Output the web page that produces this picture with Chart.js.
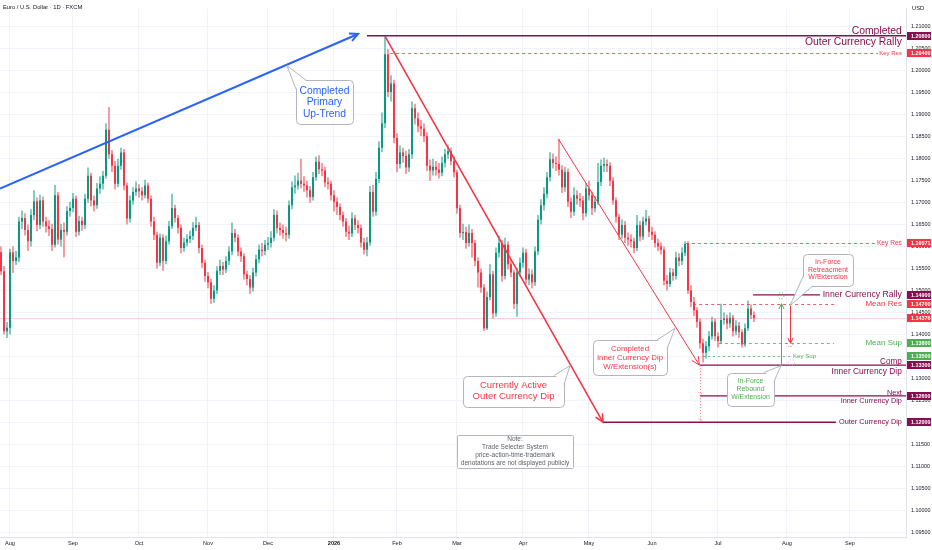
<!DOCTYPE html>
<html>
<head>
<meta charset="utf-8">
<title>EURUSD 1D</title>
<script src="https://cdn.jsdelivr.net/npm/chart.js@4.4.1/dist/chart.umd.min.js"></script>
<style>
  html, body { margin: 0; padding: 0; background: #ffffff; }
  canvas { display: block; }
</style>
</head>
<body>
<canvas id="chart" width="932" height="550"></canvas>
<script>
// Daily candles, Jul 29 2025 .. Jul 17 2026 (index 0 = Jul 29)
const opens = [
  1.1587, 1.1544, 1.1407, 1.1415, 1.1587, 1.1567, 1.1575, 1.1657, 1.1665, 1.1638,
  1.1612, 1.1672, 1.1703, 1.1649, 1.1705, 1.1657, 1.1646, 1.1640, 1.1604, 1.1717,
  1.1616, 1.1638, 1.1634, 1.1681, 1.1688, 1.1709, 1.1634, 1.1658, 1.1649, 1.1709,
  1.1761, 1.1705, 1.1694, 1.1732, 1.1743, 1.1761, 1.1866, 1.1810, 1.1784, 1.1743,
  1.1784, 1.1814, 1.1739, 1.1664, 1.1705, 1.1724, 1.1732, 1.1726, 1.1717, 1.1739,
  1.1709, 1.1657, 1.1627, 1.1563, 1.1620, 1.1567, 1.1612, 1.1646, 1.1687, 1.1665,
  1.1643, 1.1597, 1.1609, 1.1617, 1.1624, 1.1643, 1.1649, 1.1597, 1.1563, 1.1533,
  1.1519, 1.1481, 1.1500, 1.1545, 1.1556, 1.1548, 1.1567, 1.1589, 1.1631, 1.1620,
  1.1589, 1.1578, 1.1537, 1.1526, 1.1507, 1.1541, 1.1571, 1.1593, 1.1590, 1.1604,
  1.1608, 1.1620, 1.1672, 1.1642, 1.1638, 1.1631, 1.1627, 1.1694, 1.1735, 1.1739,
  1.1750, 1.1743, 1.1739, 1.1728, 1.1713, 1.1758, 1.1793, 1.1776, 1.1773, 1.1746,
  1.1743, 1.1717, 1.1702, 1.1690, 1.1672, 1.1657, 1.1634, 1.1630, 1.1664, 1.1649,
  1.1642, 1.1609, 1.1593, 1.1609, 1.1724, 1.1679, 1.1754, 1.1825, 1.1881, 1.2038,
  1.1952, 1.1971, 1.1847, 1.1788, 1.1814, 1.1806, 1.1780, 1.1810, 1.1915, 1.1892,
  1.1874, 1.1868, 1.1851, 1.1784, 1.1773, 1.1782, 1.1775, 1.1768, 1.1791, 1.1810,
  1.1817, 1.1795, 1.1769, 1.1687, 1.1631, 1.1633, 1.1608, 1.1631, 1.1608, 1.1567,
  1.1541, 1.1507, 1.1414, 1.1485, 1.1537, 1.1448, 1.1586, 1.1608, 1.1533, 1.1604,
  1.1560, 1.1541, 1.1470, 1.1541, 1.1563, 1.1586, 1.1525, 1.1537, 1.1519, 1.1589,
  1.1661, 1.1694, 1.1720, 1.1758, 1.1799, 1.1790, 1.1788, 1.1775, 1.1735, 1.1770,
  1.1702, 1.1679, 1.1717, 1.1709, 1.1705, 1.1676, 1.1732, 1.1717, 1.1687, 1.1702,
  1.1747, 1.1784, 1.1788, 1.1784, 1.1750, 1.1705, 1.1668, 1.1627, 1.1649, 1.1620,
  1.1616, 1.1612, 1.1597, 1.1649, 1.1623, 1.1657, 1.1664, 1.1634, 1.1627, 1.1608,
  1.1600, 1.1593, 1.1522, 1.1515, 1.1541, 1.1533, 1.1575, 1.1567, 1.1586, 1.1606,
  1.1500, 1.1474, 1.1455, 1.1429, 1.1380, 1.1358, 1.1373, 1.1396, 1.1429, 1.1396,
  1.1385, 1.1433, 1.1436, 1.1425, 1.1438, 1.1407, 1.1420, 1.1405, 1.1377, 1.1414,
  1.1459, 1.1444
];
const highs = [
  1.1600, 1.1556, 1.1428, 1.1595, 1.1600, 1.1590, 1.1668, 1.1682, 1.1676, 1.1650,
  1.1685, 1.1728, 1.1712, 1.1718, 1.1714, 1.1668, 1.1660, 1.1652, 1.1740, 1.1724,
  1.1652, 1.1655, 1.1692, 1.1702, 1.1722, 1.1716, 1.1670, 1.1668, 1.1720, 1.1780,
  1.1768, 1.1716, 1.1745, 1.1760, 1.1772, 1.1881, 1.1918, 1.1820, 1.1795, 1.1800,
  1.1825, 1.1822, 1.1746, 1.1716, 1.1735, 1.1748, 1.1742, 1.1735, 1.1752, 1.1746,
  1.1716, 1.1668, 1.1634, 1.1630, 1.1628, 1.1625, 1.1658, 1.1720, 1.1695, 1.1672,
  1.1650, 1.1620, 1.1628, 1.1636, 1.1656, 1.1668, 1.1656, 1.1604, 1.1570, 1.1542,
  1.1526, 1.1512, 1.1555, 1.1570, 1.1565, 1.1578, 1.1600, 1.1655, 1.1640, 1.1628,
  1.1598, 1.1585, 1.1545, 1.1535, 1.1552, 1.1582, 1.1605, 1.1608, 1.1615, 1.1622,
  1.1635, 1.1685, 1.1682, 1.1655, 1.1650, 1.1645, 1.1705, 1.1748, 1.1762, 1.1768,
  1.1800, 1.1760, 1.1750, 1.1738, 1.1770, 1.1805, 1.1808, 1.1790, 1.1782, 1.1758,
  1.1750, 1.1728, 1.1712, 1.1698, 1.1680, 1.1665, 1.1648, 1.1678, 1.1672, 1.1660,
  1.1650, 1.1620, 1.1622, 1.1738, 1.1740, 1.1770, 1.1840, 1.1905, 1.2079, 1.2050,
  1.1990, 1.1980, 1.1858, 1.1830, 1.1825, 1.1818, 1.1822, 1.1930, 1.1925, 1.1905,
  1.1888, 1.1880, 1.1860, 1.1798, 1.1800, 1.1795, 1.1790, 1.1805, 1.1822, 1.1832,
  1.1825, 1.1805, 1.1775, 1.1695, 1.1652, 1.1645, 1.1650, 1.1640, 1.1615, 1.1575,
  1.1550, 1.1515, 1.1498, 1.1560, 1.1545, 1.1598, 1.1625, 1.1615, 1.1620, 1.1612,
  1.1570, 1.1548, 1.1552, 1.1575, 1.1598, 1.1595, 1.1550, 1.1548, 1.1600, 1.1672,
  1.1708, 1.1735, 1.1770, 1.1815, 1.1812, 1.1805, 1.1845, 1.1785, 1.1782, 1.1778,
  1.1712, 1.1735, 1.1728, 1.1722, 1.1715, 1.1745, 1.1750, 1.1725, 1.1715, 1.1790,
  1.1798, 1.1802, 1.1798, 1.1792, 1.1758, 1.1712, 1.1675, 1.1662, 1.1658, 1.1632,
  1.1628, 1.1620, 1.1672, 1.1658, 1.1668, 1.1683, 1.1670, 1.1645, 1.1635, 1.1618,
  1.1610, 1.1600, 1.1535, 1.1552, 1.1550, 1.1588, 1.1585, 1.1598, 1.1612, 1.1612,
  1.1512, 1.1485, 1.1462, 1.1436, 1.1390, 1.1385, 1.1408, 1.1440, 1.1436, 1.1405,
  1.1470, 1.1450, 1.1445, 1.1450, 1.1445, 1.1432, 1.1428, 1.1412, 1.1425, 1.1477,
  1.1468, 1.1452
];
const lows = [
  1.1535, 1.1400, 1.1392, 1.1400, 1.1540, 1.1558, 1.1565, 1.1640, 1.1625, 1.1590,
  1.1600, 1.1660, 1.1635, 1.1640, 1.1645, 1.1632, 1.1624, 1.1590, 1.1598, 1.1605,
  1.1600, 1.1575, 1.1625, 1.1668, 1.1678, 1.1622, 1.1625, 1.1636, 1.1640, 1.1700,
  1.1692, 1.1680, 1.1686, 1.1720, 1.1730, 1.1755, 1.1800, 1.1770, 1.1730, 1.1735,
  1.1775, 1.1728, 1.1650, 1.1655, 1.1695, 1.1715, 1.1712, 1.1705, 1.1710, 1.1700,
  1.1645, 1.1615, 1.1550, 1.1555, 1.1545, 1.1560, 1.1605, 1.1640, 1.1655, 1.1630,
  1.1585, 1.1588, 1.1600, 1.1608, 1.1615, 1.1635, 1.1585, 1.1552, 1.1520, 1.1505,
  1.1470, 1.1472, 1.1492, 1.1535, 1.1535, 1.1540, 1.1558, 1.1580, 1.1610, 1.1578,
  1.1565, 1.1525, 1.1512, 1.1492, 1.1498, 1.1532, 1.1562, 1.1578, 1.1580, 1.1592,
  1.1598, 1.1612, 1.1630, 1.1625, 1.1618, 1.1612, 1.1618, 1.1685, 1.1720, 1.1730,
  1.1732, 1.1725, 1.1712, 1.1700, 1.1705, 1.1750, 1.1765, 1.1760, 1.1735, 1.1730,
  1.1705, 1.1680, 1.1672, 1.1660, 1.1645, 1.1622, 1.1615, 1.1622, 1.1638, 1.1630,
  1.1598, 1.1582, 1.1578, 1.1602, 1.1668, 1.1670, 1.1745, 1.1815, 1.1870, 1.1940,
  1.1930, 1.1835, 1.1770, 1.1778, 1.1790, 1.1765, 1.1770, 1.1800, 1.1878, 1.1860,
  1.1852, 1.1838, 1.1772, 1.1750, 1.1762, 1.1762, 1.1755, 1.1760, 1.1780, 1.1800,
  1.1785, 1.1758, 1.1675, 1.1620, 1.1615, 1.1595, 1.1600, 1.1575, 1.1555, 1.1507,
  1.1495, 1.1408, 1.1410, 1.1478, 1.1436, 1.1440, 1.1575, 1.1520, 1.1525, 1.1548,
  1.1530, 1.1458, 1.1440, 1.1532, 1.1552, 1.1515, 1.1512, 1.1505, 1.1510, 1.1580,
  1.1650, 1.1682, 1.1710, 1.1748, 1.1778, 1.1772, 1.1762, 1.1722, 1.1725, 1.1690,
  1.1665, 1.1670, 1.1695, 1.1690, 1.1660, 1.1668, 1.1705, 1.1672, 1.1678, 1.1695,
  1.1738, 1.1770, 1.1770, 1.1738, 1.1695, 1.1655, 1.1615, 1.1618, 1.1608, 1.1602,
  1.1598, 1.1585, 1.1590, 1.1612, 1.1615, 1.1648, 1.1622, 1.1615, 1.1598, 1.1590,
  1.1582, 1.1512, 1.1500, 1.1508, 1.1522, 1.1525, 1.1555, 1.1558, 1.1578, 1.1492,
  1.1462, 1.1442, 1.1415, 1.1368, 1.1336, 1.1345, 1.1362, 1.1388, 1.1385, 1.1370,
  1.1378, 1.1422, 1.1412, 1.1415, 1.1395, 1.1398, 1.1392, 1.1370, 1.1372, 1.1408,
  1.1435, 1.1428
];
const closes = [
  1.1544, 1.1407, 1.1415, 1.1587, 1.1567, 1.1575, 1.1657, 1.1665, 1.1638, 1.1612,
  1.1672, 1.1703, 1.1649, 1.1705, 1.1657, 1.1646, 1.1640, 1.1604, 1.1717, 1.1616,
  1.1638, 1.1634, 1.1681, 1.1688, 1.1709, 1.1634, 1.1658, 1.1649, 1.1709, 1.1761,
  1.1705, 1.1694, 1.1732, 1.1743, 1.1761, 1.1866, 1.1810, 1.1784, 1.1743, 1.1784,
  1.1814, 1.1739, 1.1664, 1.1705, 1.1724, 1.1732, 1.1726, 1.1717, 1.1739, 1.1709,
  1.1657, 1.1627, 1.1563, 1.1620, 1.1567, 1.1612, 1.1646, 1.1687, 1.1665, 1.1643,
  1.1597, 1.1609, 1.1617, 1.1624, 1.1643, 1.1649, 1.1597, 1.1563, 1.1533, 1.1519,
  1.1481, 1.1500, 1.1545, 1.1556, 1.1548, 1.1567, 1.1589, 1.1631, 1.1620, 1.1589,
  1.1578, 1.1537, 1.1526, 1.1507, 1.1541, 1.1571, 1.1593, 1.1590, 1.1604, 1.1608,
  1.1620, 1.1672, 1.1642, 1.1638, 1.1631, 1.1627, 1.1694, 1.1735, 1.1739, 1.1750,
  1.1743, 1.1739, 1.1728, 1.1713, 1.1758, 1.1793, 1.1776, 1.1773, 1.1746, 1.1743,
  1.1717, 1.1702, 1.1690, 1.1672, 1.1657, 1.1634, 1.1630, 1.1664, 1.1649, 1.1642,
  1.1609, 1.1593, 1.1609, 1.1724, 1.1679, 1.1754, 1.1825, 1.1881, 1.2038, 1.1952,
  1.1971, 1.1847, 1.1788, 1.1814, 1.1806, 1.1780, 1.1810, 1.1915, 1.1892, 1.1874,
  1.1868, 1.1851, 1.1784, 1.1773, 1.1782, 1.1775, 1.1768, 1.1791, 1.1810, 1.1817,
  1.1795, 1.1769, 1.1687, 1.1631, 1.1633, 1.1608, 1.1631, 1.1608, 1.1567, 1.1541,
  1.1507, 1.1414, 1.1485, 1.1537, 1.1448, 1.1586, 1.1608, 1.1533, 1.1604, 1.1560,
  1.1541, 1.1470, 1.1541, 1.1563, 1.1586, 1.1525, 1.1537, 1.1519, 1.1589, 1.1661,
  1.1694, 1.1720, 1.1758, 1.1799, 1.1790, 1.1788, 1.1775, 1.1735, 1.1770, 1.1702,
  1.1679, 1.1717, 1.1709, 1.1705, 1.1676, 1.1732, 1.1717, 1.1687, 1.1702, 1.1747,
  1.1784, 1.1788, 1.1784, 1.1750, 1.1705, 1.1668, 1.1627, 1.1649, 1.1620, 1.1616,
  1.1612, 1.1597, 1.1649, 1.1623, 1.1657, 1.1664, 1.1634, 1.1627, 1.1608, 1.1600,
  1.1593, 1.1522, 1.1515, 1.1541, 1.1533, 1.1575, 1.1567, 1.1586, 1.1606, 1.1500,
  1.1474, 1.1455, 1.1429, 1.1380, 1.1358, 1.1373, 1.1396, 1.1429, 1.1396, 1.1385,
  1.1433, 1.1436, 1.1425, 1.1438, 1.1407, 1.1420, 1.1405, 1.1377, 1.1414, 1.1459,
  1.1444, 1.14376
];

// axis labels
const monthStarts = [3, 24, 46, 69, 89, 111, 132, 152, 174, 196, 217, 239, 262, 283];
const monthLabels = ["Aug", "Sep", "Oct", "Nov", "Dec", "2026", "Feb", "Mar", "Apr", "May", "Jun", "Jul", "Aug", "Sep"];
const priceTicks = [
  1.095, 1.100, 1.105, 1.110, 1.115, 1.120, 1.125, 1.130, 1.135, 1.140, 1.145, 1.150,
  1.155, 1.160, 1.165, 1.170, 1.175, 1.180, 1.185, 1.190, 1.195, 1.200, 1.205, 1.210
];
const lastPrice = 1.14376;

// marked price levels (axis tags)
const tagPrices = [1.208, 1.204, 1.16071, 1.149, 1.147, 1.14376, 1.138, 1.135, 1.133, 1.126, 1.12];

const UP = "#089981";
const DOWN = "#f23645";
const MAG = "#880e4f";
const RED = "#f23645";
const GREEN = "#4caf50";
const BLUE = "#2962ff";
const FONT = "'Liberation Sans', Arial, sans-serif";
const X_MIN = -0.33, X_MAX = 301.67;
const Y_MIN = 1.09388, Y_MAX = 1.21426;

const tagColors = [MAG, RED, RED, MAG, RED, RED, GREEN, GREEN, MAG, MAG, MAG];

// drawings, all in (bar index, price)
const levels = [
  { p: 1.208, from: 122, to: X_MAX, color: MAG, width: 1.5 },
  { p: 1.204, from: 129.7, to: 292.3, color: RED, width: 1, dash: [3, 3] },
  { p: 1.16071, from: 228.3, to: 291.3, color: RED, width: 1, dash: [3, 3] },
  { p: 1.149, from: 250.7, to: 273, color: MAG, width: 1.2 },
  { p: 1.147, from: 230.7, to: 277.7, color: RED, width: 1, dash: [3, 3] },
  { p: 1.138, from: 239.3, to: 277.7, color: GREEN, width: 1, dash: [3, 3] },
  { p: 1.135, from: 234, to: 263, color: GREEN, width: 1, dash: [2, 3] },
  { p: 1.133, from: 233, to: X_MAX, color: MAG, width: 1.2 },
  { p: 1.126, from: 233, to: X_MAX, color: MAG, width: 1.2 },
  { p: 1.12, from: 200.67, to: 278.3, color: MAG, width: 1.5 }
];

const trendLines = [
  { from: [X_MIN, 1.1732], to: [119, 1.2084], color: BLUE, width: 2 },
  { from: [128, 1.2079], to: [200.67, 1.12], color: RED, width: 1.6 },
  { from: [185.8, 1.1845], to: [232.8, 1.133], color: RED, width: 1 }
];

const arrows = [
  { i: 260, from: 1.133, to: 1.147, color: GREEN },
  { i: 263, from: 1.147, to: 1.138, color: RED }
];

const levelLabels = [
  { text: "Completed", i: 300.3, p: 1.2091, color: MAG, size: 10.4 },
  { text: "Outer Currency Rally", i: 300.3, p: 1.20664, color: MAG, size: 10.4 },
  { text: "Key Res", i: 300.3, p: 1.204, color: RED, size: 6 },
  { text: "Key Res", i: 300.3, p: 1.16071, color: RED, size: 6.6 },
  { text: "Inner Currency Rally", i: 300.3, p: 1.149, color: MAG, size: 8.7 },
  { text: "Mean Res", i: 300.3, p: 1.147, color: RED, size: 8 },
  { text: "Mean Sup", i: 300.3, p: 1.138, color: GREEN, size: 8 },
  { text: "Key Sup", i: 264, p: 1.135, color: GREEN, size: 6.1, align: "left" },
  { text: "Comp", i: 300.3, p: 1.13378, color: MAG, size: 8.2 },
  { text: "Inner Currency Dip", i: 300.3, p: 1.13154, color: MAG, size: 8.4 },
  { text: "Next", i: 300.3, p: 1.12667, color: MAG, size: 7.3 },
  { text: "Inner Currency Dip", i: 300.3, p: 1.12474, color: MAG, size: 7.3 },
  { text: "Outer Currency Dip", i: 300.3, p: 1.12, color: MAG, size: 7.3 }
];

const callouts = [
  { box: [98.33, 1.19789, 117.33, 1.18781], tip: [95.33, 1.2012],
    lines: ["Completed", "Primary", "Up-Trend"], color: BLUE, size: 10.3, lh: 11.5 },
  { box: [154, 1.13064, 187.67, 1.12369], tip: [189.67, 1.13289],
    lines: ["Currently Active", "Outer Currency Dip"], color: RED, size: 9.5, lh: 10.6 },
  { box: [197.33, 1.13871, 222, 1.13064], tip: [224.67, 1.1414],
    lines: ["Completed", "Inner Currency Dip", "W/Extension(s)"], color: RED, size: 7.9, lh: 9 },
  { box: [267.33, 1.15837, 284, 1.15111], tip: [263, 1.14656],
    lines: ["In-Force", "Retreacment", "W/Extension"], color: RED, size: 7, lh: 7.7 },
  { box: [242, 1.13132, 257.67, 1.12392], tip: [260, 1.13289],
    lines: ["In-Force", "Rebound", "W/Extension"], color: GREEN, size: 6.9, lh: 8 },
  { box: [152, 1.11719, 190.67, 1.10957],
    lines: ["Note:", "Trade Selecter System", "price-action-time-trademark", "denotations are not displayed publicly"],
    color: "#5d606b", size: 6.5, lh: 8, radius: 1 }
];

function arrowHead(ctx, x1, y1, x2, y2, len) {
  const a = Math.atan2(y2 - y1, x2 - x1);
  ctx.beginPath();
  ctx.moveTo(x2 - len * Math.cos(a - 0.45), y2 - len * Math.sin(a - 0.45));
  ctx.lineTo(x2, y2);
  ctx.lineTo(x2 - len * Math.cos(a + 0.45), y2 - len * Math.sin(a + 0.45));
  ctx.stroke();
}

function roundRect(ctx, x, y, w, h, r) {
  ctx.beginPath();
  ctx.moveTo(x + r, y);
  ctx.lineTo(x + w - r, y);
  ctx.arcTo(x + w, y, x + w, y + r, r);
  ctx.lineTo(x + w, y + h - r);
  ctx.arcTo(x + w, y + h, x + w - r, y + h, r);
  ctx.lineTo(x + r, y + h);
  ctx.arcTo(x, y + h, x, y + h - r, r);
  ctx.lineTo(x, y + r);
  ctx.arcTo(x, y, x + r, y, r);
  ctx.closePath();
}

const drawings = {
  id: "drawings",
  afterDatasetsDraw(chart) {
    const ctx = chart.ctx;
    const area = chart.chartArea;
    const X = (v) => chart.scales.x.getPixelForValue(v);
    const Y = (v) => chart.scales.y.getPixelForValue(v);
    const crisp = (v) => Math.round(v) + 0.5;

    ctx.save();
    ctx.beginPath();
    ctx.rect(area.left, area.top, area.right - area.left, area.bottom - area.top);
    ctx.clip();

    // last price line
    ctx.strokeStyle = "rgba(242, 54, 69, 0.22)";
    ctx.lineWidth = 1;
    ctx.beginPath();
    ctx.moveTo(area.left, crisp(Y(lastPrice)));
    ctx.lineTo(area.right, crisp(Y(lastPrice)));
    ctx.stroke();

    // horizontal levels
    levels.forEach((l) => {
      const y = l.width === 1 ? crisp(Y(l.p)) : Y(l.p);
      ctx.strokeStyle = l.color;
      ctx.lineWidth = l.width;
      ctx.setLineDash(l.dash || []);
      ctx.globalAlpha = l.dash ? 0.8 : 1;
      ctx.beginPath();
      ctx.moveTo(X(l.from), y);
      ctx.lineTo(X(l.to), y);
      ctx.stroke();
    });
    ctx.setLineDash([]);
    ctx.globalAlpha = 1;

    // trend lines with open arrow heads
    trendLines.forEach((t) => {
      const x1 = X(t.from[0]), y1 = Y(t.from[1]);
      const x2 = X(t.to[0]), y2 = Y(t.to[1]);
      ctx.strokeStyle = t.color;
      ctx.lineWidth = t.width;
      ctx.beginPath();
      ctx.moveTo(x1, y1);
      ctx.lineTo(x2, y2);
      ctx.stroke();
      arrowHead(ctx, x1, y1, x2, y2, 9);
    });

    // vertical target arrows
    arrows.forEach((a) => {
      const x = crisp(X(a.i));
      ctx.strokeStyle = a.color;
      ctx.lineWidth = 1;
      ctx.beginPath();
      ctx.moveTo(x, Y(a.from));
      ctx.lineTo(x, Y(a.to));
      ctx.stroke();
      arrowHead(ctx, x, Y(a.from), x, Y(a.to), 6);
    });

    // dotted projection below the inner dip
    const dx = crisp(X(233));
    ctx.strokeStyle = "rgba(242, 54, 69, 0.7)";
    ctx.lineWidth = 1;
    ctx.setLineDash([1, 2]);
    ctx.beginPath();
    ctx.moveTo(dx, Y(1.133));
    ctx.lineTo(dx, Y(1.12));
    ctx.stroke();
    [1.126, 1.12].forEach((p) => arrowHead(ctx, dx, Y(p) - 6, dx, Y(p), 4));
    // small dotted target rings
    [[260, 1.1488, GREEN], [263, 1.1379, RED], [263.5, 1.1336, "#b2b5be"]].forEach((r) => {
      ctx.strokeStyle = r[2];
      ctx.beginPath();
      ctx.arc(X(r[0]), Y(r[1]), 3, 0, Math.PI * 2);
      ctx.stroke();
    });
    ctx.setLineDash([]);

    // callout boxes
    callouts.forEach((c) => {
      const x1 = X(c.box[0]), y1 = Y(c.box[1]);
      const x2 = X(c.box[2]), y2 = Y(c.box[3]);
      ctx.fillStyle = "#ffffff";
      ctx.strokeStyle = "#b2b5be";
      ctx.lineWidth = 1;
      roundRect(ctx, Math.round(x1) + 0.5, Math.round(y1) + 0.5, Math.round(x2 - x1), Math.round(y2 - y1), c.radius || 4);
      ctx.fill();
      ctx.stroke();
      if (c.tip) {
        const tx = X(c.tip[0]), ty = Y(c.tip[1]);
        const cx = Math.abs(tx - x1) < Math.abs(tx - x2) ? x1 : x2;
        const cy = Math.abs(ty - y1) < Math.abs(ty - y2) ? y1 : y2;
        const sx = cx === x1 ? 1 : -1, sy = cy === y1 ? 1 : -1;
        const ax = cx + sx * 10, ay = cy, bx = cx, by = cy + sy * 9;
        ctx.beginPath();
        ctx.moveTo(ax, ay);
        ctx.lineTo(tx, ty);
        ctx.lineTo(bx, by);
        ctx.lineTo(cx + sx * 3, cy + sy * 3);
        ctx.closePath();
        ctx.fill();
        ctx.beginPath();
        ctx.moveTo(ax, ay);
        ctx.lineTo(tx, ty);
        ctx.lineTo(bx, by);
        ctx.stroke();
      }
      ctx.fillStyle = c.color;
      ctx.font = c.size + "px " + FONT;
      ctx.textAlign = "center";
      ctx.textBaseline = "middle";
      const xc = (x1 + x2) / 2, yc = (y1 + y2) / 2;
      c.lines.forEach((t, k) => {
        ctx.fillText(t, xc, yc + (k - (c.lines.length - 1) / 2) * c.lh);
      });
    });

    // level texts
    levelLabels.forEach((l) => {
      ctx.fillStyle = l.color;
      ctx.font = l.size + "px " + FONT;
      ctx.textAlign = l.align || "right";
      ctx.textBaseline = "middle";
      ctx.fillText(l.text, X(l.i), Y(l.p));
    });
    ctx.restore();
  },
  afterDraw(chart) {
    const ctx = chart.ctx;
    const area = chart.chartArea;
    const Y = (v) => chart.scales.y.getPixelForValue(v);
    ctx.save();
    // price tags on the axis
    tagPrices.forEach((p, k) => {
      const y = Math.round(Y(p));
      ctx.fillStyle = tagColors[k];
      ctx.fillRect(area.right + 1, y - 4, chart.width - area.right - 2, 8);
      ctx.fillStyle = "#ffffff";
      ctx.font = "bold 5.4px " + FONT;
      ctx.textAlign = "left";
      ctx.textBaseline = "middle";
      ctx.fillText(p.toFixed(5), area.right + 5, y + 0.5);
    });
    // header texts
    ctx.fillStyle = "#131722";
    ctx.font = "5.8px " + FONT;
    ctx.textAlign = "left";
    ctx.textBaseline = "middle";
    ctx.fillText("Euro / U.S. Dollar · 1D · FXCM", 3, 7);
    ctx.fillText("USD", area.right + 6, 8);
    ctx.restore();
  }
};

const candleColor = (c) => (closes[c.dataIndex] >= opens[c.dataIndex] ? UP : DOWN);

const bodies = closes.map((c, i) => ({ x: i, y: [Math.min(opens[i], c), Math.max(opens[i], c)] }));
const wicks = closes.map((c, i) => ({ x: i, y: [lows[i], highs[i]] }));

new Chart(document.getElementById("chart").getContext("2d"), {
  type: "bar",
  data: {
    datasets: [
      {
        label: "body",
        data: bodies,
        backgroundColor: candleColor,
        barThickness: 2,
        minBarLength: 1,
        grouped: false,
        borderWidth: 0,
        inflateAmount: 0,
      },
      {
        label: "wick",
        data: wicks,
        backgroundColor: candleColor,
        barThickness: 1,
        grouped: false,
        borderWidth: 0,
        inflateAmount: 0,
      },
    ],
  },
  options: {
    responsive: false,
    animation: false,
    layout: { padding: 0 },
    plugins: {
      legend: { display: false },
      tooltip: { enabled: false },
    },
    scales: {
      x: {
        type: "linear",
        min: X_MIN,
        max: X_MAX,
        offset: false,
        afterBuildTicks: (s) => {
          s.ticks = monthStarts.map((v) => ({ value: v }));
        },
        afterFit: (s) => {
          s.height = 13;
        },
        grid: { color: "#f0f3fa", drawTicks: false, offset: false },
        border: { display: true, color: "#e0e3eb" },
        ticks: {
          autoSkip: false,
          maxRotation: 0,
          padding: 3,
          color: "#131722",
          font: (c) => ({ family: FONT, size: 5.6, weight: c.tick && c.tick.value === 111 ? "bold" : "normal" }),
          callback: (v) => monthLabels[monthStarts.indexOf(v)] || "",
        },
      },
      y: {
        type: "linear",
        position: "right",
        min: Y_MIN,
        max: Y_MAX,
        afterBuildTicks: (s) => {
          s.ticks = priceTicks.map((v) => ({ value: v }));
        },
        afterFit: (s) => {
          s.width = 26;
        },
        grid: { color: "#f0f3fa", drawTicks: false },
        border: { display: true, color: "#e0e3eb" },
        ticks: {
          padding: 5,
          color: "#131722",
          font: { family: FONT, size: 5.4 },
          callback: (v) => v.toFixed(5),
        },
      },
    },
  },
  plugins: [drawings],
});
</script>
</body>
</html>
